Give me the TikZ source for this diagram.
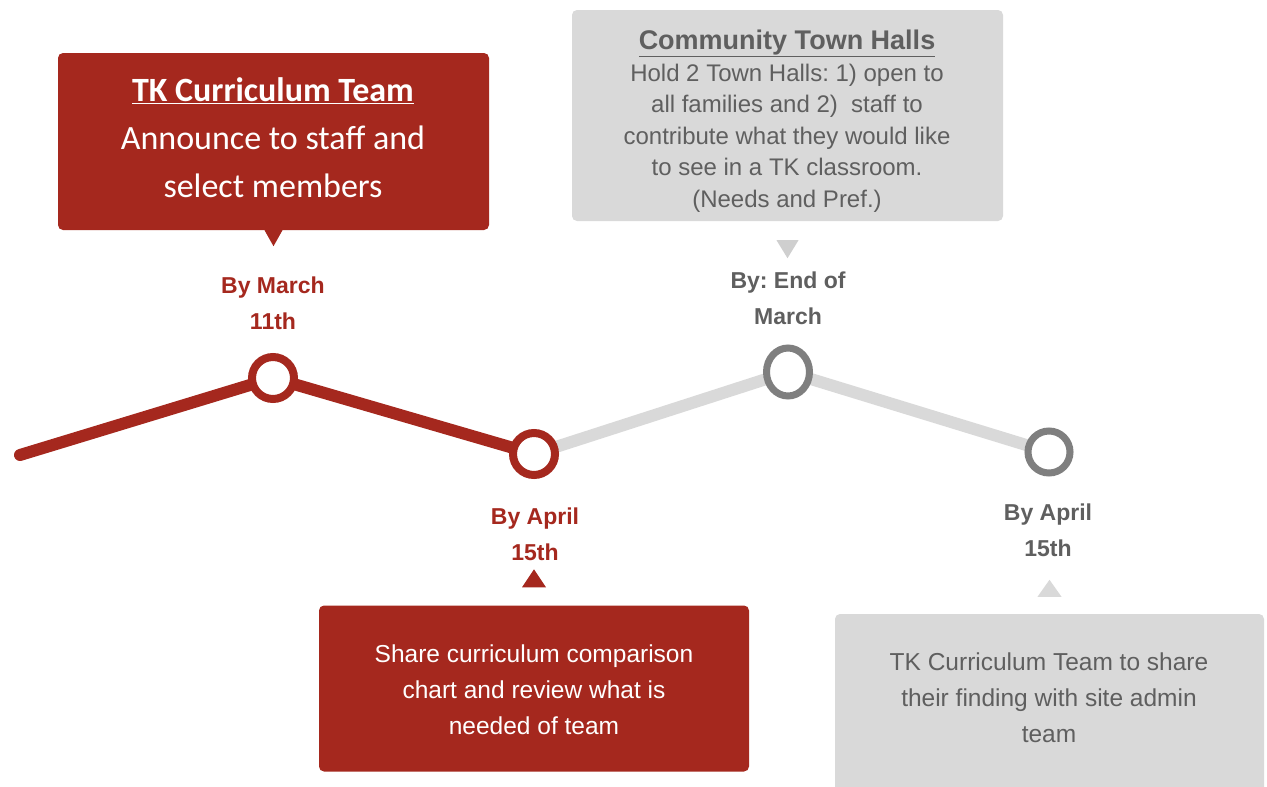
\documentclass[tikz,border=0pt]{standalone}
\usepackage{fontspec}
\setmainfont{Liberation Sans}
\newfontfamily\calfont{Carlito}
\usetikzlibrary{shapes.geometric,calc}
\definecolor{tkred}{HTML}{A5281E}
\definecolor{boxgrey}{HTML}{D9D9D9}
\definecolor{tipgrey}{HTML}{CFCFCF}
\definecolor{dotgrey}{HTML}{7F7F7F}
\definecolor{txtgrey}{HTML}{5F5F5F}
\frenchspacing
\begin{document}
\begin{tikzpicture}[x=1pt,y=-1pt,
  card/.style={rectangle,rounded corners=5pt,inner sep=0pt},
  redcard/.style={card,fill=tkred},
  greycard/.style={card,fill=boxgrey},
  reddot/.style={circle,draw=tkred,line width=8pt,fill=white,minimum size=42pt,inner sep=0pt},
  greydot/.style={ellipse,draw=dotgrey,line width=7pt,fill=white,inner sep=0pt},
  datelabel/.style={align=center,font=\bfseries\fontsize{23}{36}\selectfont},
  bodytext/.style={align=center,font=\fontsize{24.5}{36}\selectfont},
  redline/.style={draw=tkred,line width=12pt,line cap=round,line join=round},
  greyline/.style={draw=boxgrey,line width=12pt,line cap=round,line join=round}]
\useasboundingbox (0,0) rectangle (1267,787);
\clip (0,0) rectangle (1267,787);
\fill[white] (0,0) rectangle (1267,787);

% timeline points
\coordinate (start) at (20,455);
\coordinate (p1) at (273,378);
\coordinate (p2) at (534,454);
\coordinate (p3) at (788,372);
\coordinate (p4) at (1049,452);

\draw[greyline] (p2) -- (p3) -- (p4);
\draw[redline] (start) -- (p1) -- (p2);

\node[reddot] (d1) at (p1) {};
\node[reddot] (d2) at (p2) {};
\node[greydot,minimum width=43pt,minimum height=48pt] (d3) at (p3) {};
\node[greydot,minimum width=42pt,minimum height=42pt] (d4) at (p4) {};

% boxes
\node[redcard,minimum width=431pt,minimum height=177pt] (b1) at (273.5,141.5) {};
\node[greycard,minimum width=431pt,minimum height=211pt] (b2) at (787.5,115.5) {};
\node[redcard,minimum width=430pt,minimum height=166pt] (b3) at (534,688.5) {};
\node[greycard,minimum width=429pt,minimum height=200pt] (b4) at (1049.5,714) {};

% pointers
\fill[tkred] ($(b1.south)+(-9,0)$) -- ($(b1.south)+(9,0)$) -- ($(b1.south)+(0,16)$) -- cycle;
\fill[tipgrey] ($(b2.south)+(-11,19)$) -- ($(b2.south)+(11,19)$) -- ($(b2.south)+(0,37)$) -- cycle;
\fill[tkred] ($(b3.north)+(-12,-18)$) -- ($(b3.north)+(12,-18)$) -- ($(b3.north)+(0,-36)$) -- cycle;
\fill[boxgrey] ($(b4.north)+(-12,-17)$) -- ($(b4.north)+(12,-17)$) -- ($(b4.north)+(0,-34)$) -- cycle;

% box texts
\node[align=center,text=white,font=\calfont\fontsize{34}{48}\selectfont] (t1) at (273,138)
  {\textbf{\underline{TK Curriculum Team}}\\Announce to staff and\\select members};
\node[align=center,text=txtgrey,font=\fontsize{24}{31.5}\selectfont] (t2) at (787,121)
  {{\fontsize{27}{31.5}\selectfont\textbf{\underline{Community Town Halls}}}\\Hold 2 Town Halls: 1) open to\\all families and 2)~ staff to\\contribute what they would like\\to see in a TK classroom.\\(Needs and Pref.)};
\node[bodytext,text=white] (t3) at (534,690)
  {Share curriculum comparison\\chart and review what is\\needed of team};
\node[bodytext,text=txtgrey] (t4) at (1049,698)
  {TK Curriculum Team to share\\their finding with site admin\\team};

% date labels
\node[datelabel,text=tkred] (l1) at (273,303) {By March\\11th};
\node[datelabel,text=txtgrey] (l3) at (788,298) {By: End of\\March};
\node[datelabel,text=tkred] (l2) at (535,534) {By April\\15th};
\node[datelabel,text=txtgrey] (l4) at (1048,530) {By April\\15th};
\end{tikzpicture}
\end{document}
